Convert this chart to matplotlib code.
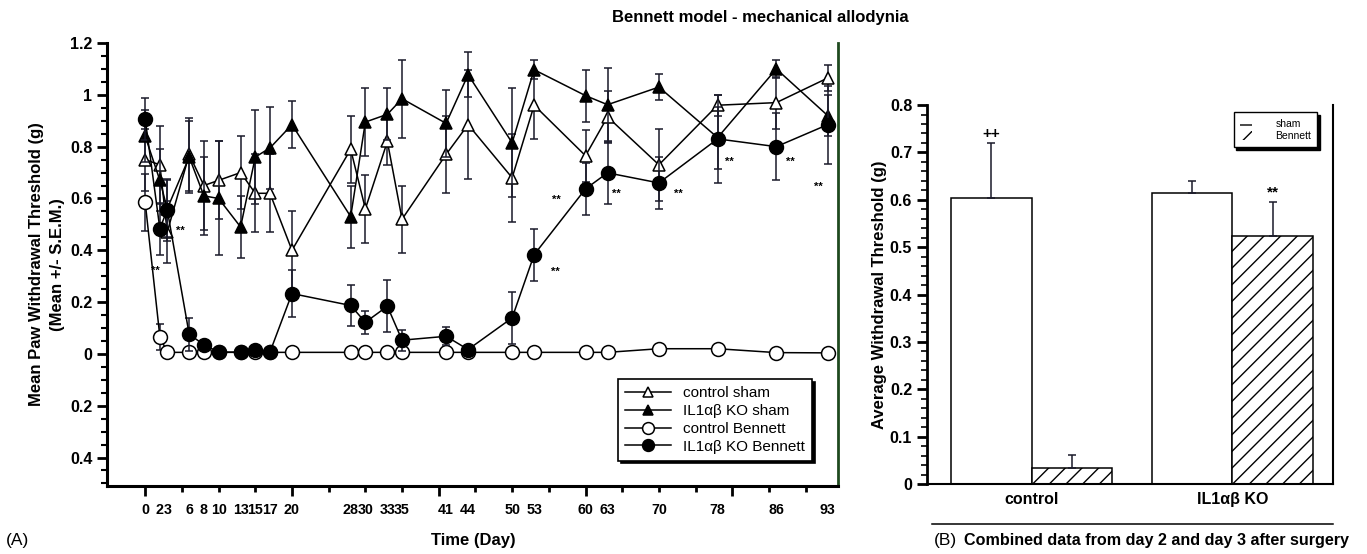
import matplotlib
matplotlib.use("Agg")
import matplotlib.pyplot as plt
from matplotlib.patches import Patch
from matplotlib.lines import Line2D

plt.rcParams['font.family'] = ['Liberation Sans', 'DejaVu Sans']
plt.rcParams['hatch.linewidth'] = 1.0

# ============ Panel A data ============
days = [0, 2, 3, 6, 8, 10, 13, 15, 17, 20, 28, 30, 33, 35, 41, 44, 50, 53, 60, 63, 70, 78, 86, 93]

ctrl_sham = [0.75, 0.73, 0.47, 0.77, 0.65, 0.67, 0.70, 0.62, 0.62, 0.40, 0.79, 0.56,
             0.82, 0.52, 0.77, 0.885, 0.68, 0.96, 0.765, 0.915, 0.73, 0.96, 0.97, 1.065]
ctrl_sham_sem = [0.12, 0.15, 0.12, 0.14, 0.17, 0.15, 0.14, 0.15, 0.15, 0.15, 0.13, 0.13,
                 0.09, 0.13, 0.15, 0.21, 0.17, 0.13, 0.10, 0.10, 0.14, 0.04, 0.10, 0.05]

ko_sham = [0.84, 0.67, 0.56, 0.76, 0.61, 0.60, 0.49, 0.76, 0.795, 0.885, 0.53, 0.895,
           0.925, 0.985, 0.89, 1.078, 0.815, 1.097, 0.997, 0.962, 1.03, 0.835, 1.10, 0.92]
ko_sham_sem = [0.10, 0.12, 0.11, 0.14, 0.15, 0.22, 0.12, 0.18, 0.16, 0.09, 0.12, 0.13,
               0.10, 0.15, 0.13, 0.086, 0.21, 0.036, 0.10, 0.14, 0.05, 0.12, 0.035, 0.08]

ctrl_benn = [0.585, 0.066, 0.006, 0.006, 0.006, 0.006, 0.006, 0.006, 0.006, 0.006, 0.006, 0.006,
             0.006, 0.006, 0.006, 0.006, 0.006, 0.006, 0.006, 0.006, 0.02, 0.02, 0.005, 0.004]
ctrl_benn_sem = [0.11, 0.05, 0.005, 0.005, 0.005, 0.005, 0.005, 0.005, 0.005, 0.005, 0.005, 0.005,
                 0.005, 0.005, 0.005, 0.005, 0.005, 0.005, 0.005, 0.005, 0.005, 0.005, 0.005, 0.005]

ko_benn = [0.907, 0.483, 0.557, 0.075, 0.036, 0.007, 0.007, 0.014, 0.007, 0.233, 0.187, 0.122,
           0.184, 0.053, 0.068, 0.017, 0.139, 0.383, 0.637, 0.699, 0.66, 0.83, 0.80, 0.885]
ko_benn_sem = [0.08, 0.10, 0.12, 0.064, 0.01, 0.005, 0.005, 0.005, 0.005, 0.09, 0.08, 0.045,
               0.10, 0.04, 0.035, 0.005, 0.10, 0.10, 0.10, 0.12, 0.10, 0.17, 0.13, 0.15]

# significance marks ("**") in panel A: (day, value)
star_days = [1.4, 4.8, 55.9, 56.0, 64.2, 72.6, 79.6, 87.9, 91.7]
star_vals = [0.32, 0.475, 0.317, 0.593, 0.618, 0.619, 0.743, 0.743, 0.643]

ytick_vals = [1.2, 1.0, 0.8, 0.6, 0.4, 0.2, 0.0, -0.2, -0.4]
ytick_labels = ['1.2', '1', '0.8', '0.6', '0.4', '0.2', '0', '0.2', '0.4']

# ============ Panel B data ============
groups = ['control', 'IL1\u03b1\u03b2 KO']
sham_means = [0.603, 0.614]
sham_err = [0.117, 0.026]
benn_means = [0.034, 0.524]
benn_err = [0.028, 0.072]
sham_marks = ['++', '']
benn_marks = ['', '**']

fig = plt.figure(figsize=(13.67, 5.54), dpi=100)

# ============ Panel A ============
ax = fig.add_axes([0.0783, 0.1227, 0.5347, 0.7996])

series = [
    (ctrl_sham, ctrl_sham_sem, '^', 'white', 8.5, 'control sham'),
    (ko_sham, ko_sham_sem, '^', 'black', 8.5, 'IL1\u03b1\u03b2 KO sham'),
    (ctrl_benn, ctrl_benn_sem, 'o', 'white', 10, 'control Bennett'),
    (ko_benn, ko_benn_sem, 'o', 'black', 10, 'IL1\u03b1\u03b2 KO Bennett'),
]
handles = []
for i, (vals, sem, mk, fc, ms, lab) in enumerate(series):
    ax.errorbar(days, vals, yerr=sem, fmt='none', ecolor='#1a1a2a',
                elinewidth=1.1, capsize=3, capthick=1.1, zorder=2 + i)
    ax.plot(days, vals, color='black', lw=1.1, marker=mk, ms=ms,
            mfc=fc, mec='black', mew=1.1, zorder=3 + i)
    handles.append(Line2D([], [], color='black', lw=1.1, marker=mk, ms=ms * 0.85,
                          mfc=fc, mec='black', mew=1.1))

for d, v in zip(star_days, star_vals):
    ax.text(d, v, '**', fontsize=8, fontweight='bold', ha='center', va='center')

ax.set_xlim(-5.2, 94.4)
ax.set_ylim(-0.51, 1.2)
ax.set_xticks(range(0, 81, 20))
ax.set_xticks(range(0, 91, 5), minor=True)
ax.tick_params(axis='x', which='major', length=7, width=2, labelbottom=False)
ax.tick_params(axis='x', which='minor', length=4, width=2)

sec = ax.secondary_xaxis('bottom')
sec.set_xticks(days, [str(d) for d in days])
sec.tick_params(length=0, pad=12, labelsize=10.3)
sec.spines['bottom'].set_visible(False)
for lbl in sec.get_xticklabels():
    lbl.set_fontweight('bold')

ax.set_yticks(ytick_vals, ytick_labels)
ax.set_yticks([v / 100 for v in range(-50, 121, 5)], minor=True)
ax.tick_params(axis='y', which='major', length=7, width=2, labelsize=11.5)
ax.tick_params(axis='y', which='minor', length=4, width=1.5)
for lbl in ax.get_yticklabels():
    lbl.set_fontweight('bold')

ax.spines['top'].set_visible(False)
ax.spines['left'].set_linewidth(2.2)
ax.spines['bottom'].set_linewidth(2.2)
ax.spines['right'].set_color('#1f4a1f')
ax.spines['right'].set_linewidth(2)

ax.set_ylabel('Mean Paw Withdrawal Threshold (g)\n(Mean +/- S.E.M.)',
              fontsize=12, fontweight='bold', labelpad=4, linespacing=1.5)

leg = ax.legend(handles, [s[5] for s in series], loc='lower right',
                bbox_to_anchor=(0.975, 0.04), fontsize=11, frameon=True,
                fancybox=False, shadow={'color': 'black', 'alpha': 1.0},
                handlelength=3.0, borderpad=0.45, labelspacing=0.25)
leg.get_frame().set_edgecolor('black')
leg.get_frame().set_linewidth(1.2)

# ============ Panel B ============
bx = fig.add_axes([0.678, 0.1264, 0.297, 0.684])
w = 0.402
xs = list(range(len(groups)))
xs_sham = [x - w / 2 for x in xs]
xs_benn = [x + w / 2 for x in xs]

bx.bar(xs_sham, sham_means, width=w, color='white', edgecolor='black', lw=1.1,
       yerr=[[0] * len(xs), sham_err], capsize=3,
       error_kw={'elinewidth': 1.1, 'capthick': 1.1, 'ecolor': '#1a1a2a'})
bx.bar(xs_benn, benn_means, width=w, color='white', edgecolor='black', lw=1.1,
       hatch='//', yerr=[[0] * len(xs), benn_err], capsize=3,
       error_kw={'elinewidth': 1.1, 'capthick': 1.1, 'ecolor': '#1a1a2a'})

for x, m, e, t in zip(xs_sham, sham_means, sham_err, sham_marks):
    if t:
        bx.text(x, m + e + 0.004, t, ha='center', va='bottom', fontsize=11, fontweight='bold')
for x, m, e, t in zip(xs_benn, benn_means, benn_err, benn_marks):
    if t:
        bx.text(x, m + e + 0.004, t, ha='center', va='bottom', fontsize=11, fontweight='bold')

bx.set_xlim(-0.523, 1.5)
bx.set_ylim(0, 0.8)
bx.set_xticks(xs, groups)
bx.tick_params(axis='x', length=0, pad=6, labelsize=11.5)
for lbl in bx.get_xticklabels():
    lbl.set_fontweight('bold')
bx.set_yticks([v / 10 for v in range(0, 9)], ['0', '0.1', '0.2', '0.3', '0.4', '0.5', '0.6', '0.7', '0.8'])
bx.set_yticks([v / 100 for v in range(0, 81, 2)], minor=True)
bx.tick_params(axis='y', which='major', length=7, width=2, labelsize=11.5)
bx.tick_params(axis='y', which='minor', length=4, width=1.2)
for lbl in bx.get_yticklabels():
    lbl.set_fontweight('bold')
bx.spines['top'].set_visible(False)
bx.spines['left'].set_linewidth(2)
bx.spines['bottom'].set_linewidth(1.5)
bx.spines['right'].set_linewidth(1.5)
bx.set_ylabel('Average Withdrawal Threshold (g)', fontsize=12, fontweight='bold', labelpad=2)

bleg = bx.legend([Patch(facecolor='white', edgecolor='black', hatch='-', lw=0),
                  Patch(facecolor='white', edgecolor='black', hatch='//', lw=0)],
                 ['sham', 'Bennett'], loc='upper right', bbox_to_anchor=(0.975, 0.995),
                 fontsize=7.5, frameon=True, fancybox=False,
                 shadow={'color': 'black', 'alpha': 1.0},
                 handlelength=1.2, handleheight=1.0, borderpad=0.6, labelspacing=0.2,
                 handletextpad=2.2)
bleg.get_frame().set_edgecolor('black')
bleg.get_frame().set_linewidth(1.0)

# ============ Figure text ============
fig.text(0.556, 0.968, 'Bennett model - mechanical allodynia', ha='center', va='center',
         fontsize=12, fontweight='bold')
fig.text(0.004, 0.025, '(A)', ha='left', va='center', fontsize=12.5)
fig.text(0.346, 0.025, 'Time (Day)', ha='center', va='center', fontsize=12, fontweight='bold')
fig.add_artist(Line2D([0.682, 0.975], [0.054, 0.054], color='black', lw=1.1))
fig.text(0.683, 0.025, '(B)', ha='left', va='center', fontsize=12.5)
fig.text(0.705, 0.025, 'Combined data from day 2 and day 3 after surgery', ha='left',
         va='center', fontsize=11.6, fontweight='bold')

fig.savefig('out.png', dpi=100)
